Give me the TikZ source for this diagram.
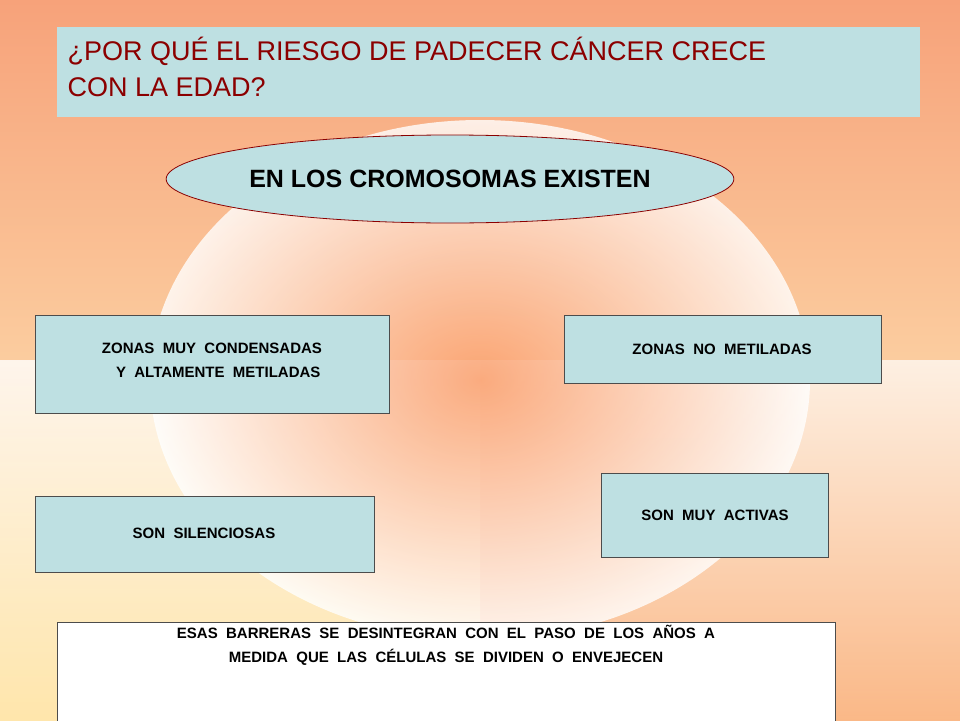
\documentclass[tikz,border=0pt]{standalone}
\usepackage{fontspec}
\setmainfont{Liberation Sans}
\usetikzlibrary{shapes.geometric,arrows.meta}
\definecolor{boxc}{HTML}{BEE0E2}
\definecolor{tred}{HTML}{8B0000}
\definecolor{arr}{HTML}{6A0638}
\definecolor{cul}{HTML}{F7A27A}
\definecolor{cur}{HTML}{FFF7C4}
\definecolor{cll}{HTML}{FFE2A6}
\definecolor{clr}{HTML}{F89E6E}
\definecolor{cmid}{HTML}{FA9A66}
\tikzset{
 box/.style={draw=black!70,line width=0.6pt,fill=boxc,inner sep=0pt},
 lbl/.style={font=\bfseries\fontsize{15}{24}\selectfont,align=center},
 blockarrow/.style={draw=none,line width=22pt,arr,-{Triangle[width=50pt,length=32pt]}}
}
\begin{document}
\begin{tikzpicture}[x=1pt,y=-1pt]
\useasboundingbox (0,0) rectangle (960,720);
\shade[left color=cul,right color=cur,shading angle=0] (0,0) rectangle (960,720);
\shade[top color=cul!0,bottom color=clr,opacity=0.7] (480,360) rectangle (960,720);
\shade[top color=cul!0,bottom color=cll,opacity=0.8] (0,360) rectangle (480,720);
\shade[inner color=cmid,outer color=cmid!0,opacity=0.8] (480,380) ellipse (330 and 260);
% title
\fill[boxc] (57,27) rectangle (920,117);
\node[anchor=north west,align=left,text=tred,font=\fontsize{27}{36}\selectfont] (title) at (64,34) {¿POR QUÉ EL RIESGO DE PADECER CÁNCER CRECE\\CON LA EDAD?};
% ellipse
\node[ellipse,draw=tred,line width=0.8pt,fill=boxc,minimum width=556pt,minimum height=88pt,inner sep=0pt,font=\bfseries\fontsize{25}{30}\selectfont] (ell) at (450,179) {EN LOS CROMOSOMAS EXISTEN};
% boxes
\draw[box] (35,315) rectangle (389,413);
\node[lbl] (b1) at (212,360) {ZONAS\ \ MUY\ \ CONDENSADAS\\\ \ \ Y\ \ ALTAMENTE\ \ METILADAS};
\draw[box] (564,315) rectangle (881,383);
\node[lbl] (b2) at (722,349) {ZONAS\ \ NO\ \ METILADAS};
\draw[box] (35,496) rectangle (374,572);
\node[lbl] (b3) at (204,533) {SON\ \ SILENCIOSAS};
\draw[box] (601,473) rectangle (828,557);
\node[lbl] (b4) at (715,515) {SON\ \ MUY\ \ ACTIVAS};
\draw[box,fill=white] (57,622) rectangle (835,725);
\node[lbl,anchor=north] (b5) at (446,622) {ESAS\ \ BARRERAS\ \ SE\ \ DESINTEGRAN\ \ CON\ \ EL\ \ PASO\ \ DE\ \ LOS\ \ AÑOS\ \ A\\MEDIDA\ \ QUE\ \ LAS\ \ CÉLULAS\ \ SE\ \ DIVIDEN\ \ O\ \ ENVEJECEN};
% arrows
\coordinate (a1s) at (265,224); \coordinate (a1e) at (212,305);
\coordinate (a2s) at (658,222); \coordinate (a2e) at (708,302);
\coordinate (a3s) at (211,428); \coordinate (a3e) at (211,490);
\coordinate (a4s) at (710,390); \coordinate (a4e) at (710,466);
\draw[blockarrow] (a1s) -- (a1e);
\draw[blockarrow] (a2s) -- (a2e);
\draw[blockarrow] (a3s) -- (a3e);
\draw[blockarrow] (a4s) -- (a4e);
\end{tikzpicture}
\end{document}
